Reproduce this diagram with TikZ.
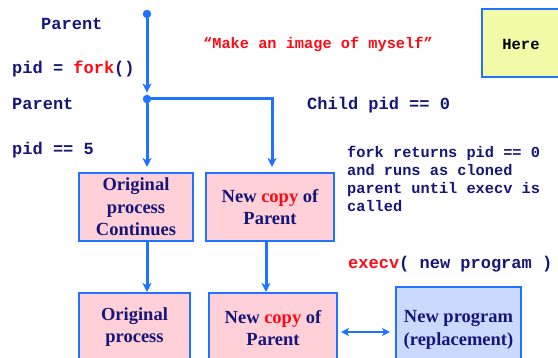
\documentclass[tikz,border=0pt]{standalone}
\usepackage{fontspec}
\setmainfont{Liberation Serif}
\newfontfamily\codefont{Liberation Mono}[BoldFont={Liberation Mono Bold}]
\usetikzlibrary{arrows.meta}

\definecolor{flowblue}{RGB}{30,115,255}
\definecolor{ink}{RGB}{22,22,120}
\definecolor{hot}{RGB}{255,10,20}
\definecolor{pinkfill}{RGB}{255,208,216}
\definecolor{bluefill}{RGB}{204,217,255}
\definecolor{notefill}{RGB}{242,250,168}

\begin{document}
\begin{tikzpicture}[x=1pt,y=-1pt,
  flow/.style={draw=flowblue, line width=3pt,
    -{Stealth[length=9pt,width=9pt,inset=2.5pt]}},
  swapflow/.style={draw=flowblue, line width=2.2pt,
    {Stealth[length=8pt,width=8pt,inset=2pt]}-{Stealth[length=8pt,width=8pt,inset=2pt]}},
  dot/.style={circle, fill=flowblue, inner sep=0pt, minimum size=8.5pt},
  procbox/.style={draw=flowblue, line width=2pt, fill=pinkfill, inner sep=0pt,
    text=ink, align=center, font=\bfseries\fontsize{18.5}{22.5}\selectfont},
  progbox/.style={procbox, fill=bluefill},
  notebox/.style={draw=flowblue, line width=2pt, fill=notefill, inner sep=0pt},
  boxtext/.style={inner sep=0pt, text=ink, align=center,
    font=\bfseries\fontsize{18.5}{22.5}\selectfont},
  code/.style={inner sep=0pt, text=ink, anchor=base west,
    font=\codefont\bfseries\fontsize{17}{20}\selectfont},
  smallcode/.style={inner sep=0pt, text=ink, align=left,
    font=\codefont\bfseries\fontsize{15.3}{18}\selectfont},
]
\useasboundingbox (0,0) rectangle (558,358);
\clip (0,0) rectangle (558,358);

% process boxes
\node[procbox, minimum width=114pt, minimum height=68pt] (orig) at (136,207)
  {Original\\process\\Continues};
\node[procbox, minimum width=128pt, minimum height=68pt] (copy) at (270,207)
  {New \textcolor{hot}{copy} of\\Parent};
\node[procbox, minimum width=111pt, minimum height=100pt, anchor=north] (origlater) at (134.5,292) {};
\node[boxtext] (origlatertext) at (134.5,327) {Original\\process};
\node[procbox, minimum width=128pt, minimum height=100pt, anchor=north] (copylater) at (273,292) {};
\node[boxtext] (copylatertext) at (273,328) {New \textcolor{hot}{copy} of\\Parent};
\node[progbox, minimum width=125pt, minimum height=100pt, anchor=north] (newprog) at (458.5,286) {};
\node[boxtext] (newprogtext) at (458.5,330) {New program\\(replacement)};

% note box in the corner
\node[notebox, minimum width=80pt, minimum height=68pt] (here) at (522,43) {};
\node[inner sep=0pt, anchor=base, font=\codefont\bfseries\fontsize{15.5}{18}\selectfont] (heretext) at (521,50) {Here};

% fork points
\node[dot] (start) at (147,14) {};
\node[dot] (split) at (147,99) {};
\coordinate (corner) at (272,99);

% connectors
\draw[flow, shorten >=2pt] (start) -- (split);
\draw[flow, shorten >=5pt] (split) -- (split |- orig.north);
\draw[flow, shorten >=5pt] (split.center) -- (corner) -- (corner |- copy.north);
\draw[flow] (orig.south -| split) -- (origlater.north -| split);
\draw[flow] ([xshift=-4pt]copy.south) -- ([xshift=-4pt]copy.south |- copylater.north);
\draw[swapflow, shorten <=3pt, shorten >=5pt] ([yshift=11pt]copylater.east) -- ([yshift=11pt]copylater.east -| newprog.west);

% code annotations
\node[code] (parenttop) at (41,30) {Parent};
\node[code] (forkcall) at (12,74) {pid = \textcolor{hot}{fork}()};
\node[code] (parentafter) at (12,110) {Parent};
\node[code] (parentpid) at (12,155) {pid == 5};
\node[code] (childpid) at (307,110) {Child pid == 0};
\node[code] (execcall) at (348,269) {\textcolor{hot}{execv}( new program )};
\node[smallcode, anchor=base west, text=hot] (image) at (203,49) {“Make an image of myself”};
\node[smallcode, anchor=north west] (forknote) at (347,146)
  {fork returns pid == 0\\and runs as cloned\\parent until execv is\\called};
\end{tikzpicture}
\end{document}
